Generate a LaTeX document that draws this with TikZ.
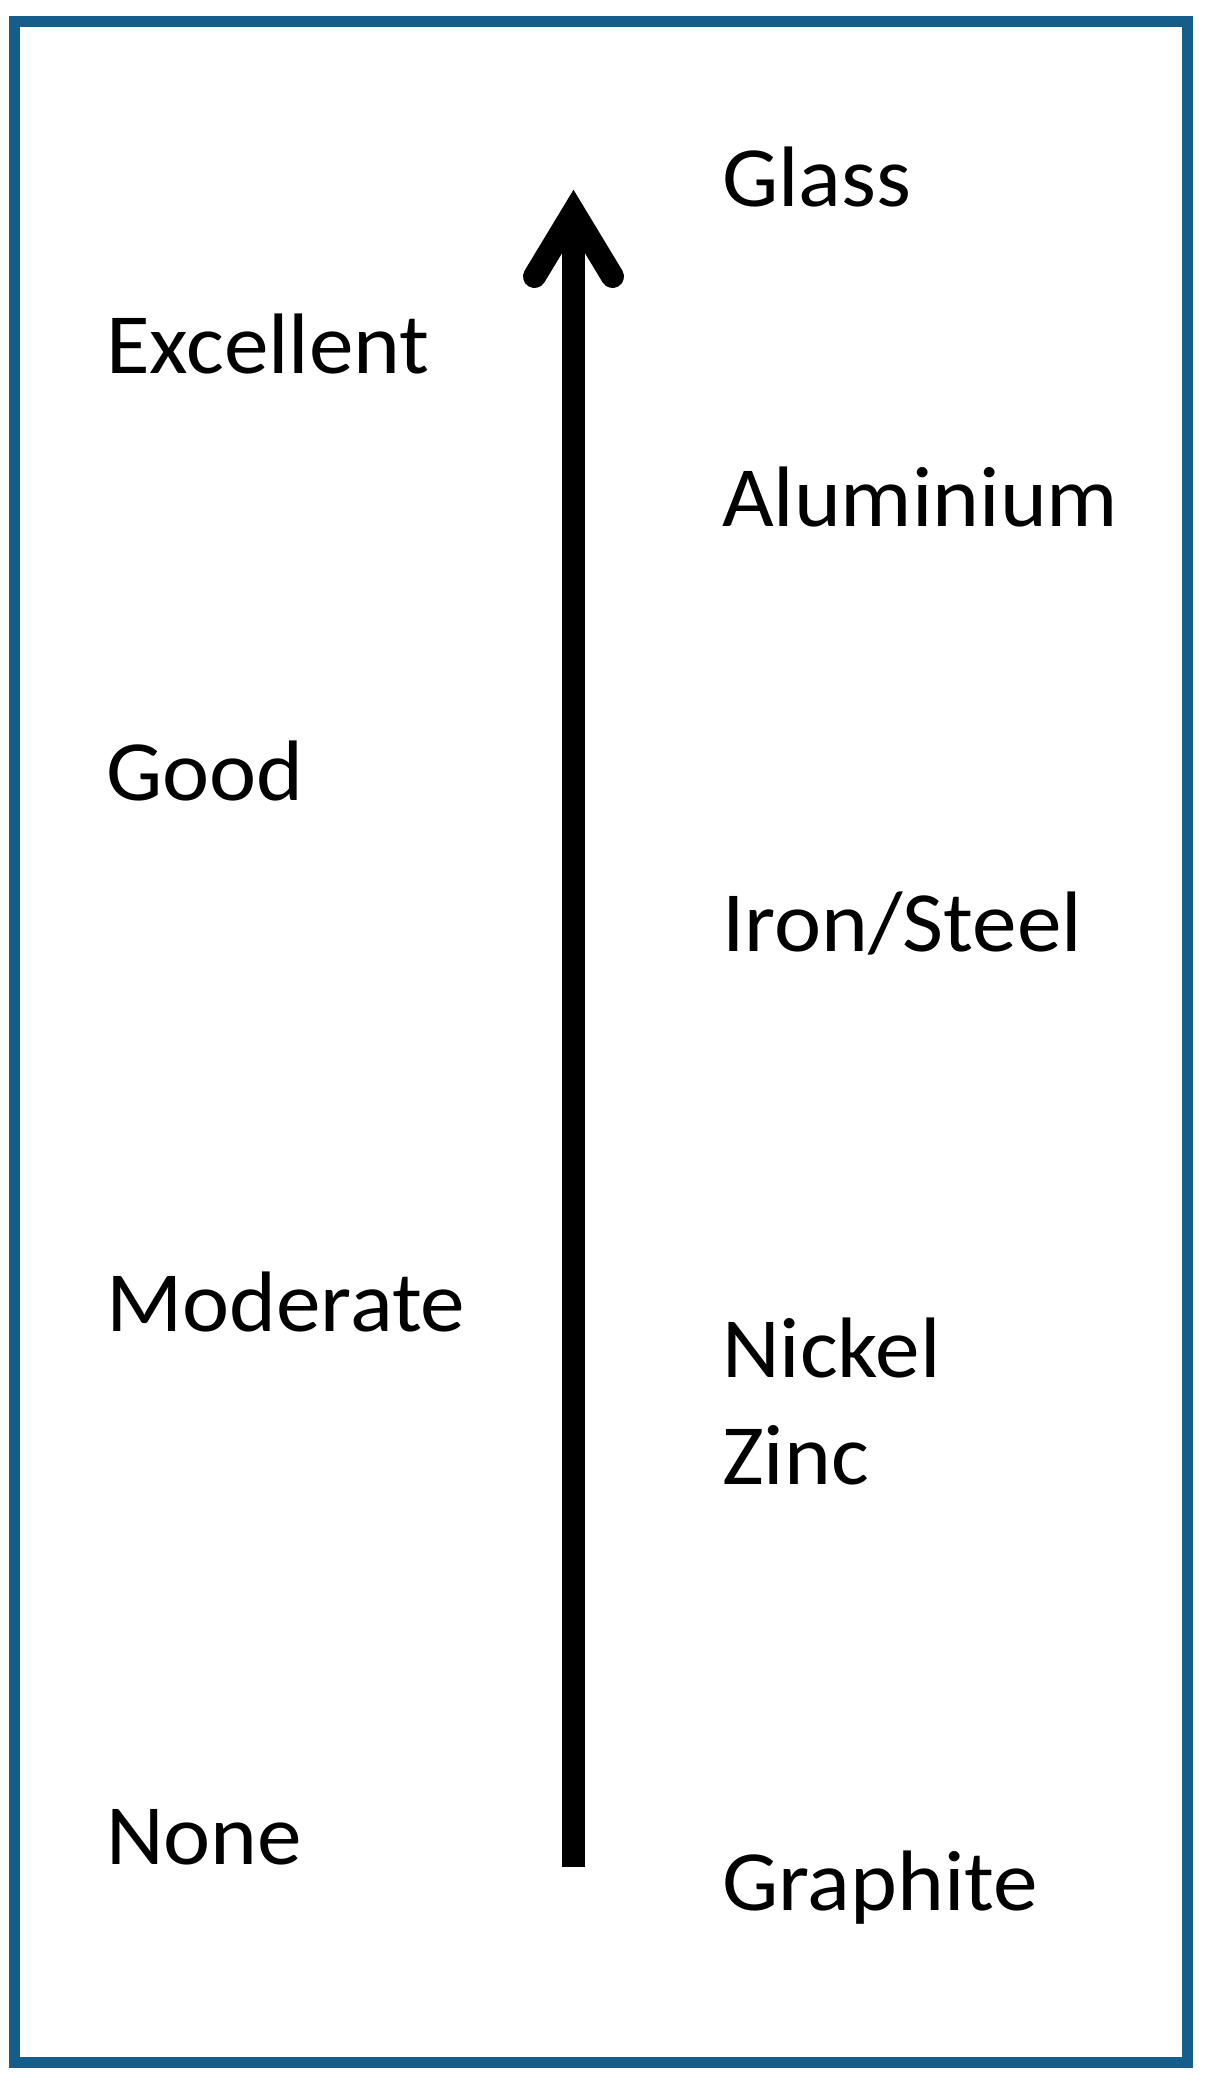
\documentclass[tikz,border=0pt]{standalone}
\usepackage{fontspec}
\setmainfont{Carlito}[FakeStretch=1.04]
\definecolor{framecol}{RGB}{21,94,139}
\begin{document}
\begin{tikzpicture}[x=0.6pt,y=-0.6pt,
  lbl/.style={anchor=base west,inner sep=0pt,outer sep=0pt,font=\fontsize{51.5}{64}\selectfont},
  frame/.style={draw=framecol,line width=6.6pt},
  shaft/.style={draw=black,line width=13.8pt,line cap=butt},
  head/.style={draw=black,line width=13.8pt,line cap=round,miter limit=10}]
\useasboundingbox (0,0) rectangle (1207,2081);
\fill[white] (0,0) rectangle (1207,2081);
\draw[frame] (14.5,21.5) rectangle (1187.5,2062);
% arrow
\coordinate (base) at (573.5,1867);
\coordinate (tip) at (573.5,212);
\coordinate (barbL) at (534.5,276.5);
\coordinate (barbR) at (612.5,276.5);
\draw[shaft] (base) -- (tip);
\draw[head] (barbL) -- (tip) -- (barbR);
% left labels
\node[lbl] (excellent) at (106,373.3) {Excellent};
\node[lbl] (good) at (106,800) {Good};
\node[lbl] (moderate) at (106,1331.7) {Moderate};
\node[lbl] (none) at (106,1864) {None};
% right labels
\node[lbl] (glass) at (722,206.5) {Glass};
\node[lbl] (aluminium) at (722,526) {Aluminium};
\node[lbl] (iron) at (722,951) {Iron/Steel};
\node[lbl] (nickel) at (722,1377.3) {Nickel};
\node[lbl] (zinc) at (722,1484.3) {Zinc};
\node[lbl] (graphite) at (722,1910) {Graphite};
\end{tikzpicture}
\end{document}
